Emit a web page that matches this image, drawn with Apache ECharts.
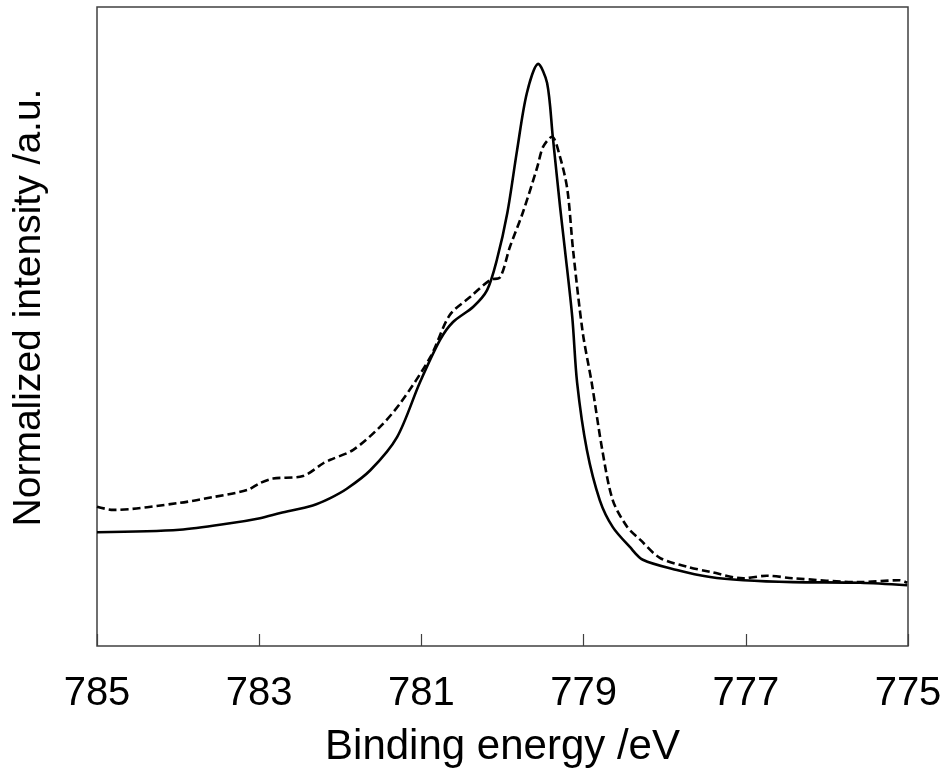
<!doctype html>
<html lang="en">
<head>
    <meta charset="UTF-8">
    <title>XPS spectrum</title>
    <style>
        * {
            margin: 0;
            padding: 0;
        }
        body {
            background: #fff;
        }
        #main {
            width: 949px;
            height: 779px;
        }
    </style>
</head>
<body>
<div id="main"></div>
<script src="https://cdn.jsdelivr.net/npm/echarts@6/dist/echarts.min.js"></script>
<script>
    // binding energy (eV) and normalized intensity (0-100 of the plot height)
    var solidEnergy = [785.00, 783.98, 783.36, 782.99, 782.74, 782.34, 782.13, 781.92, 781.63, 781.30,
        781.02, 780.77, 780.61, 780.36, 780.19, 780.07, 779.94, 779.82, 779.70, 779.56,
        779.45, 779.38, 779.29, 779.23, 779.14, 779.08, 778.96, 778.80, 778.64, 778.43,
        778.27, 777.85, 777.44, 777.03, 776.42, 775.59, 775.01];
    var solidIntensity = [17.8, 18.2, 19.2, 20.0, 20.8, 22.0, 23.1, 24.6, 27.5, 32.7,
        41.2, 47.9, 50.7, 53.1, 55.7, 60.4, 67.8, 77.6, 86.5, 91.1,
        88.1, 79.7, 68.7, 62.0, 51.5, 41.2, 30.7, 22.8, 18.6, 15.5,
        13.5, 11.9, 10.8, 10.3, 10.0, 9.9, 9.5];

    var dashEnergy = [785.00, 784.80, 783.98, 783.57, 783.15, 782.99, 782.83, 782.46, 782.21, 782.13,
        781.84, 781.51, 781.26, 780.89, 780.65, 780.40, 780.15, 780.03, 779.91, 779.75,
        779.57, 779.50, 779.39, 779.29, 779.20, 779.13, 779.01, 778.90, 778.77, 778.64,
        778.46, 778.30, 778.06, 777.72, 777.44, 777.03, 776.74, 776.42, 775.59, 775.10, 775.01];
    var dashIntensity = [21.8, 21.3, 22.4, 23.3, 24.4, 25.5, 26.2, 26.6, 28.6, 29.1,
        30.7, 34.3, 38.0, 45.2, 51.8, 54.6, 57.3, 57.7, 62.4, 67.8,
        75.0, 78.1, 79.7, 76.5, 71.4, 62.0, 49.0, 41.2, 30.7, 22.8,
        18.6, 16.6, 13.8, 12.4, 11.6, 10.6, 11.0, 10.6, 10.0, 10.3, 9.9];

    var tickValues = [775, 777, 779, 781, 783, 785];

    function pairs(xs, ys) {
        var out = [];
        for (var i = 0; i < xs.length; i++) {
            out.push([xs[i], ys[i]]);
        }
        return out;
    }

    var myChart = echarts.init(document.getElementById('main'));
    var font = '"Liberation Sans", Arial, sans-serif';
    var option = {
        animation: false,
        grid: {
            left: 97,
            right: 41,
            top: 7,
            bottom: 133,
            show: true,
            borderColor: '#404040',
            borderWidth: 1.5
        },
        xAxis: {
            type: 'value',
            min: 775,
            max: 785,
            inverse: true,
            name: 'Binding energy /eV',
            nameLocation: 'middle',
            nameGap: 80,
            nameTextStyle: {fontSize: 42, color: '#000', fontFamily: font},
            axisLine: {show: false},
            splitLine: {show: false},
            axisTick: {
                show: true,
                inside: true,
                length: 12,
                customValues: tickValues,
                lineStyle: {color: '#404040', width: 1.2}
            },
            axisLabel: {
                customValues: tickValues,
                margin: 28,
                fontSize: 40,
                color: '#000',
                fontFamily: font
            }
        },
        yAxis: {
            type: 'value',
            min: 0,
            max: 100,
            name: 'Normalized intensity /a.u.',
            nameLocation: 'middle',
            nameGap: 48,
            // push the title a little above the middle, as in the source
            nameTextStyle: {fontSize: 39, color: '#000', fontFamily: font, padding: [0, 0, 0, 38]},
            axisLine: {show: false},
            axisTick: {show: false},
            axisLabel: {show: false},
            splitLine: {show: false}
        },
        series: [{
            type: 'line',
            data: pairs(solidEnergy, solidIntensity),
            showSymbol: false,
            smooth: 0.3,
            lineStyle: {color: '#000', width: 2.6}
        }, {
            type: 'line',
            data: pairs(dashEnergy, dashIntensity),
            showSymbol: false,
            smooth: 0.3,
            lineStyle: {color: '#000', width: 2.6, type: [8, 4]}
        }]
    };
    myChart.setOption(option);
</script>
</body>
</html>
